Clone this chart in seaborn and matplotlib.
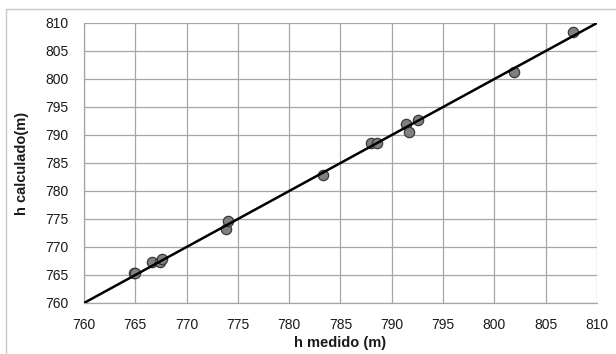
import matplotlib
matplotlib.use("Agg")
import matplotlib.pyplot as plt
import seaborn as sns
import pandas as pd
from matplotlib.patches import Rectangle

h_medido = [764.9, 765.0, 766.6, 767.4, 767.6, 773.8, 774.0, 783.3, 788.0, 788.6,
            791.4, 791.7, 792.6, 801.9, 807.7]
h_calculado = [765.3, 765.4, 767.3, 767.4, 767.9, 773.3, 774.6, 782.9, 788.5, 788.5,
               792.0, 790.5, 792.7, 801.3, 808.4]
line_x = [760, 810]
line_y = [760, 810]
ticks = [760, 765, 770, 775, 780, 785, 790, 795, 800, 805, 810]

sns.set_theme(style="white")
plt.rcParams['font.family'] = ['Liberation Sans Narrow', 'Liberation Sans', 'DejaVu Sans']

fig = plt.figure(figsize=(6.16, 3.54), dpi=100)
ax = fig.add_axes([84/616, 1-303/354, (597-84)/616, (303-23)/354])

df = pd.DataFrame({"x": h_medido, "y": h_calculado})
ldf = pd.DataFrame({"x": line_x, "y": line_y})

sns.scatterplot(data=df, x="x", y="y", ax=ax, s=55, color="#808080",
                edgecolor="#3a3a3a", linewidth=0.9, zorder=3)
sns.lineplot(data=ldf, x="x", y="y", ax=ax, color="black", linewidth=1.8, zorder=4)

ax.set_xlim(760, 810)
ax.set_ylim(760, 810)
ax.set_xticks(ticks)
ax.set_yticks(ticks)
ax.grid(True, color="#a6a6a6", linewidth=0.9)
ax.set_axisbelow(True)
for s in ["top", "right"]:
    ax.spines[s].set_visible(False)
for s in ["left", "bottom"]:
    ax.spines[s].set_color("#a6a6a6")
    ax.spines[s].set_linewidth(0.9)
ax.tick_params(axis="both", direction="out", length=5, width=0.9, color="#a6a6a6",
               labelsize=10, labelcolor="#1a1a1a")
ax.tick_params(axis="x", pad=6)
ax.tick_params(axis="y", pad=6)
ax.set_xlabel("h medido (m)", fontsize=10.5, fontweight="bold", labelpad=3, color="#1a1a1a")
ax.set_ylabel("h calculado(m)", fontsize=10.5, fontweight="bold", labelpad=12, color="#1a1a1a")

fig.patches.append(Rectangle((6/616, -0.05), 1.0, 1 - 9/354 + 0.05, transform=fig.transFigure,
                             fill=False, edgecolor="#c8c8c8", linewidth=1.0))

fig.savefig("out.png", dpi=100)
